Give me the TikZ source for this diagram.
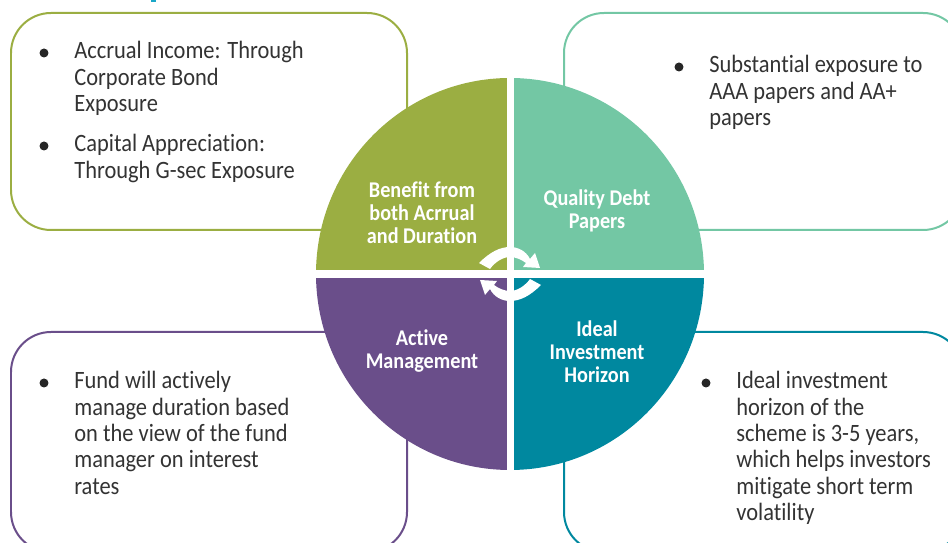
\documentclass[tikz,border=0pt]{standalone}
\usepackage{fontspec}
\setmainfont[FakeStretch=0.9,Ligatures=NoCommon]{Carlito}
\definecolor{benefitcol}{HTML}{9BAE42}
\definecolor{qualitycol}{HTML}{73C7A4}
\definecolor{activecol}{HTML}{6A4E8A}
\definecolor{idealcol}{HTML}{00889F}
\definecolor{bodycol}{HTML}{333333}
\definecolor{speckcol}{HTML}{1AA7C8}
\tikzstyle{box}=[line width=0.04cm,rounded corners=0.8cm]
\tikzstyle{label}=[text=white,font=\fontsize{12.8}{13.2}\selectfont\bfseries,align=center]
\tikzstyle{body}=[text=bodycol,font=\fontsize{14.2}{15}\selectfont,align=left,anchor=north west,inner sep=0pt]
\tikzstyle{dot}=[circle,fill=black!85,inner sep=0pt,minimum size=0.18cm]
\begin{document}
\begin{tikzpicture}[x=0.02cm,y=-0.02cm]
\useasboundingbox (0,0) rectangle (948,543);
\clip (0,0) rectangle (948,543);

\fill[speckcol] (151,0) rectangle (156,2);

\draw[box,draw=benefitcol] (11,13) rectangle (407,230);
\draw[box,draw=qualitycol] (564,13) rectangle (963,230);
\draw[box,draw=activecol] (11,332) rectangle (407,552);
\draw[box,draw=idealcol] (564,332) rectangle (963,552);

\begin{scope}
\clip (510,274) ellipse (194 and 196);
\fill[benefitcol] (310,70) rectangle (506.5,270.5);
\fill[qualitycol] (514,70) rectangle (710,270.5);
\fill[activecol] (310,278) rectangle (506.5,480);
\fill[idealcol] (514,278) rectangle (710,480);
\end{scope}

\foreach \ang in {0,180} {
\fill[white,rotate around={\ang:(510,274)}] (479,263) .. controls (490,252) and (500,247) .. (510,247) .. controls (518,247) and (526,251) .. (530,259) -- (535,253) -- (540,268) -- (523,267) -- (526,263) .. controls (522,260) and (516,257) .. (510,257) .. controls (503,257) and (495,262) .. (490,269) -- cycle;
}

\node[label] (benefit) at (422,212.5) {Benefit from\\both Acrrual\\and Duration};
\node[label] (quality) at (597,211) {Quality Debt\\Papers};
\node[label] (active) at (422,351) {Active\\Management};
\node[label] (ideal) at (597,352) {Ideal\\Investment\\Horizon};

\node[dot] (dota) at (44,53) {};
\node[body] (texta) at (74,41) {Accrual Income: Through\\Corporate Bond\\Exposure};
\node[dot] (dotb) at (44,146) {};
\node[body] (textb) at (74,134) {Capital Appreciation:\\Through G-sec Exposure};
\node[dot] (dotc) at (679,67) {};
\node[body] (textc) at (709,55) {Substantial exposure to\\AAA papers and AA+\\papers};
\node[dot] (dotd) at (44,383) {};
\node[body] (textd) at (74,371) {Fund will actively\\manage duration based\\on the view of the fund\\manager on interest\\rates};
\node[dot] (dote) at (706,383) {};
\node[body] (texte) at (736,371) {Ideal investment\\horizon of the\\scheme is 3-5 years,\\which helps investors\\mitigate short term\\volatility};

\end{tikzpicture}
\end{document}
